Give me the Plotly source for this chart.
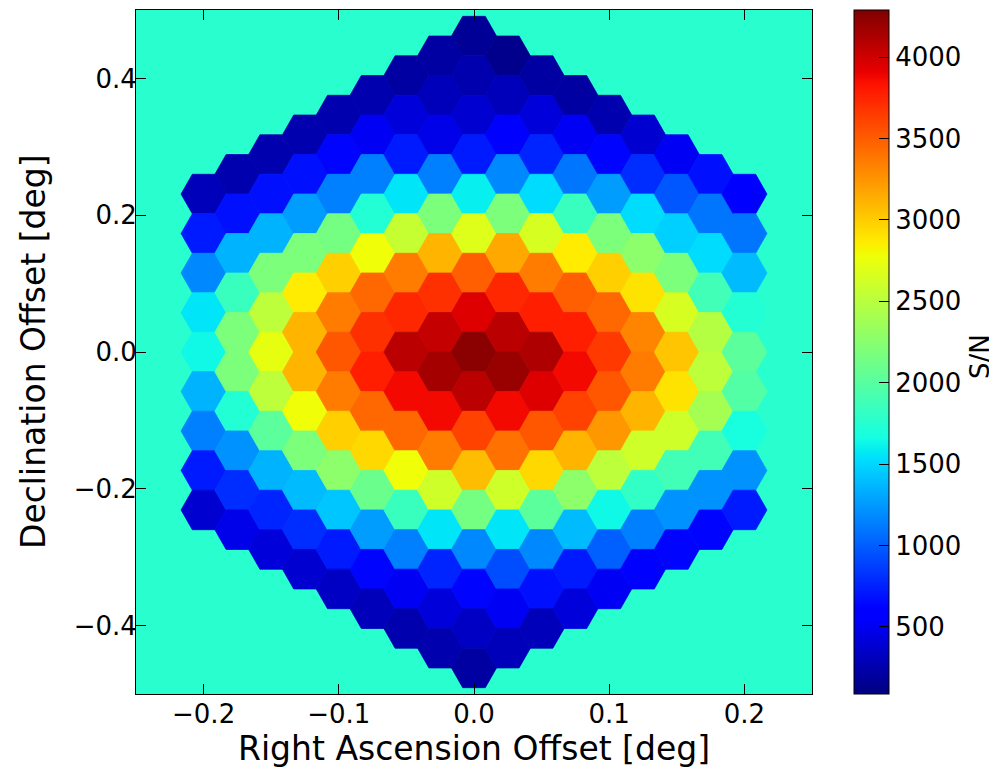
import numpy as np
import plotly.graph_objects as go
from plotly.colors import sample_colorscale

# ---------------- data ----------------
# Right-ascension offset of each hexagon column (deg)
ra_offsets = [-0.2, -0.175, -0.15, -0.125, -0.1, -0.075, -0.05, -0.025, 0.0,
              0.025, 0.05, 0.075, 0.1, 0.125, 0.15, 0.175, 0.2]

# S/N of each hexagon, one list per column, from the top (north) to the bottom (south)
sn_col_m8 = [300, 720, 1180, 1560, 1640, 1350, 1140, 720, 380]
sn_col_m7 = [260, 680, 1350, 1850, 2190, 2190, 1730, 1220, 800, 470]
sn_col_m6 = [260, 680, 1350, 2190, 2520, 2730, 2520, 2020, 1350, 760, 420]
sn_col_m5 = [260, 680, 1260, 2190, 2860, 3110, 3110, 2780, 2190, 1390, 800, 380]
sn_col_m4 = [260, 630, 1140, 2150, 2990, 3360, 3530, 3360, 2990, 2270, 1430, 720, 340]
sn_col_m3 = [260, 510, 1140, 1730, 2780, 3450, 3700, 3780, 3450, 2950, 2100, 1260, 630, 300]
sn_col_m2 = [210, 420, 720, 1560, 2570, 3360, 3740, 4080, 3870, 3450, 2780, 1850, 1140, 510, 260]
sn_col_m1 = [210, 300, 470, 1140, 2190, 3110, 3700, 4040, 4160, 3870, 3360, 2610, 1560, 760, 420, 260]
sn_col_00 = [170, 260, 380, 720, 1600, 2690, 3490, 3950, 4250, 4080, 3620, 3070, 2150, 1180, 630, 340, 210]
sn_col_p1 = [130, 300, 550, 1180, 2190, 3160, 3740, 4080, 4200, 3870, 3410, 2610, 1560, 930, 510, 300]
sn_col_p2 = [210, 420, 760, 1520, 2650, 3360, 3780, 4120, 3950, 3530, 2950, 2020, 1180, 680, 300]
sn_col_p3 = [210, 510, 1100, 1850, 2860, 3490, 3780, 3870, 3620, 3110, 2270, 1390, 720, 420]
sn_col_p4 = [260, 630, 1260, 2190, 2990, 3450, 3660, 3530, 3240, 2520, 1640, 1010, 510]
sn_col_p5 = [380, 800, 1520, 2270, 2900, 3320, 3360, 3110, 2610, 1810, 1140, 590]
sn_col_p6 = [510, 970, 1470, 2190, 2650, 3030, 2900, 2610, 1890, 1220, 630]
sn_col_p7 = [680, 1100, 1520, 1890, 2480, 2520, 2400, 1890, 1220, 630]
sn_col_p8 = [590, 1100, 1390, 1730, 2020, 1980, 1680, 1220, 720]

sn_columns = [sn_col_m8, sn_col_m7, sn_col_m6, sn_col_m5, sn_col_m4, sn_col_m3,
              sn_col_m2, sn_col_m1, sn_col_00, sn_col_p1, sn_col_p2, sn_col_p3,
              sn_col_p4, sn_col_p5, sn_col_p6, sn_col_p7, sn_col_p8]

sn_min, sn_max = 88, 4290

ra_tick_vals = [-0.2, -0.1, 0.0, 0.1, 0.2]
ra_tick_text = ["\u22120.2", "\u22120.1", "0.0", "0.1", "0.2"]
dec_tick_vals = [-0.4, -0.2, 0.0, 0.2, 0.4]
dec_tick_text = ["\u22120.4", "\u22120.2", "0.0", "0.2", "0.4"]
sn_tick_vals = [500, 1000, 1500, 2000, 2500, 3000, 3500, 4000]

# ---------------- matplotlib "jet" colorscale ----------------
def jet_rgb(t):
    r = np.interp(t, [0, 0.35, 0.66, 0.89, 1], [0, 0, 1, 1, 0.5])
    g = np.interp(t, [0, 0.125, 0.375, 0.64, 0.91, 1], [0, 0, 1, 1, 0, 0])
    b = np.interp(t, [0, 0.11, 0.34, 0.65, 1], [0.5, 1, 1, 0, 0])
    return "rgb(%d,%d,%d)" % (round(r * 255), round(g * 255), round(b * 255))

stops = [0, 0.11, 0.125, 0.34, 0.35, 0.375, 0.64, 0.65, 0.66, 0.89, 0.91, 1]
jet = [[s, jet_rgb(s)] for s in stops]

# ---------------- hexagon geometry (binning grid) ----------------
dx = ra_offsets[1] - ra_offsets[0]        # column spacing
R = dx / 1.5                               # horizontal circum-radius
h = 2 * dx / np.sqrt(3)                    # vertical half-height (dec units)

fig = go.Figure()
all_x, all_y, all_v = [], [], []
for ra, col in zip(ra_offsets, sn_columns):
    n = len(col)
    decs = [h * ((n - 1) - 2 * i) for i in range(n)]
    norm = [(v - sn_min) / (sn_max - sn_min) for v in col]
    colors = sample_colorscale(jet, norm)
    for dec, v, c in zip(decs, col, colors):
        hx = [ra + R, ra + R / 2, ra - R / 2, ra - R, ra - R / 2, ra + R / 2, ra + R]
        hy = [dec, dec + h, dec + h, dec, dec - h, dec - h, dec]
        fig.add_trace(go.Scatter(
            x=hx, y=hy, mode="lines", fill="toself", fillcolor=c,
            line=dict(color=c, width=0.8), hoverinfo="skip", showlegend=False))
        all_x.append(ra)
        all_y.append(dec)
        all_v.append(v)

font_family = "DejaVu Sans, Liberation Sans, sans-serif"

# transparent markers: carry the colour scale (colorbar) and hover info
fig.add_trace(go.Scatter(
    x=all_x, y=all_y, mode="markers", showlegend=False,
    marker=dict(size=30, color=all_v, colorscale=jet, cmin=sn_min, cmax=sn_max,
                opacity=0, showscale=True,
                colorbar=dict(
                    x=1.0621, xanchor="left", xpad=0, y=0.5, yanchor="middle",
                    len=1, lenmode="fraction", ypad=0, thickness=35,
                    outlinecolor="black", outlinewidth=1,
                    ticks="inside", ticklen=10, tickwidth=1, tickcolor="black",
                    tickvals=sn_tick_vals, tickfont=dict(size=26, color="black",
                                                         family=font_family))),
    hovertemplate="RA %{x:.3f}<br>Dec %{y:.3f}<br>S/N %{marker.color}<extra></extra>"))

axis_common = dict(
    ticks="inside", ticklen=10, tickwidth=1, tickcolor="black",
    showline=True, linecolor="black", linewidth=1, mirror="allticks",
    showgrid=False, zeroline=False, automargin=False,
    tickfont=dict(size=26, color="black", family=font_family),
)

# the page body adds an 8 px margin, so the figure is sized/positioned for it
fig.update_layout(
    width=989, height=761, autosize=False,
    margin=dict(l=128, r=185, t=2, b=75),
    paper_bgcolor="white", plot_bgcolor="#29FFCE",
    font=dict(family=font_family, color="black"),
    xaxis=dict(range=[-0.25, 0.25], tickvals=ra_tick_vals, ticktext=ra_tick_text,
               ticklabelstandoff=-3, **axis_common),
    yaxis=dict(range=[-0.5, 0.5], tickvals=dec_tick_vals, ticktext=dec_tick_text,
               ticklabelstandoff=-7, **axis_common),
    annotations=[
        dict(text="Right Ascension Offset [deg]", xref="paper", yref="paper",
             x=0.5, y=-54 / 684, xanchor="center", yanchor="middle", showarrow=False,
             font=dict(size=33, color="black", family=font_family)),
        dict(text="Declination Offset [deg]", textangle=-90, xref="paper", yref="paper",
             x=-103 / 676, y=0.5, xanchor="center", yanchor="middle", showarrow=False,
             font=dict(size=33, color="black", family=font_family)),
        dict(text="S/N", textangle=-90, xref="paper", yref="paper",
             x=(980 - 136) / 676, y=(694 - 357) / 684,
             xanchor="center", yanchor="middle", showarrow=False,
             font=dict(size=26, color="black", family=font_family)),
    ],
)

fig.write_html("out.html")
